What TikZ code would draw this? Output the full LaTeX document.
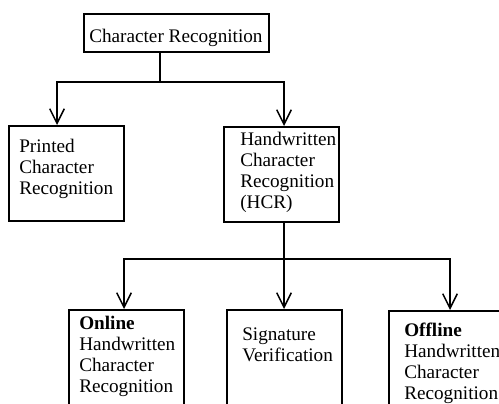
\documentclass[tikz,border=0pt]{standalone}
\usepackage{fontspec}
\setmainfont{Liberation Serif}
\usetikzlibrary{arrows.meta}

\begin{document}
\begin{tikzpicture}[x=0.75pt, y=-0.75pt,
	box_node/.style={draw, line width=1.2pt, anchor=north west, inner sep=0pt, minimum width=86.25pt},
	box_text/.style={anchor=north west, inner sep=0pt, align=left, font=\fontsize{14.4}{15.75}\selectfont},
	link/.style={line width=1.1pt, -{Straight Barb[length=11pt, width=11pt, line width=1.1pt]}}]
	\useasboundingbox (0,0) rectangle (499,403);
	\clip (0,0) rectangle (499,403);
	% boxes
	\node[box_node, minimum width=138.75pt, minimum height=28.5pt] (cr) at (83,13) {};
	\node[box_node, minimum height=71.25pt] (prt) at (8,125) {};
	\node[box_node, minimum height=71.25pt] (hcr) at (223,126) {};
	\node[box_node, minimum height=90pt] (onl) at (68,309) {};
	\node[box_node, minimum height=90pt] (sig) at (226,309) {};
	\node[box_node, minimum height=90pt] (off) at (388,310) {};
	% texts
	\node[box_text] (cr_t) at (89,28.9) {Character Recognition};
	\node[box_text] (prt_t) at (19,138.8) {Printed\\Character\\Recognition};
	\node[box_text] (hcr_t) at (240,132.2) {Handwritten\\Character\\Recognition\\(HCR)};
	\node[box_text] (onl_t) at (79,316) {\textbf{Online}\\Handwritten\\Character\\Recognition};
	\node[box_text] (sig_t) at (242,327.5) {Signature\\Verification};
	\node[box_text] (off_t) at (404,322.9) {\textbf{Offline}\\Handwritten\\Character\\Recognition};
	% connectors
	\coordinate (fork_top) at (160,82);
	\coordinate (fork_mid) at (284,259);
	\draw[line width=1.1pt] (fork_top |- cr.south) -- (fork_top);
	\draw[link] (fork_top) -| ([xshift=36.75pt]prt.north west);
	\draw[link] (fork_top) -| ([xshift=45.75pt]hcr.north west);
	\draw[line width=1.1pt] (fork_mid |- hcr.south) -- (fork_mid);
	\draw[link] (fork_mid) -| ([xshift=42pt]onl.north west);
	\draw[link] (fork_mid) -- (fork_mid |- sig.north);
	\draw[link] (fork_mid) -| ([xshift=46.5pt]off.north west);
\end{tikzpicture}
\end{document}
